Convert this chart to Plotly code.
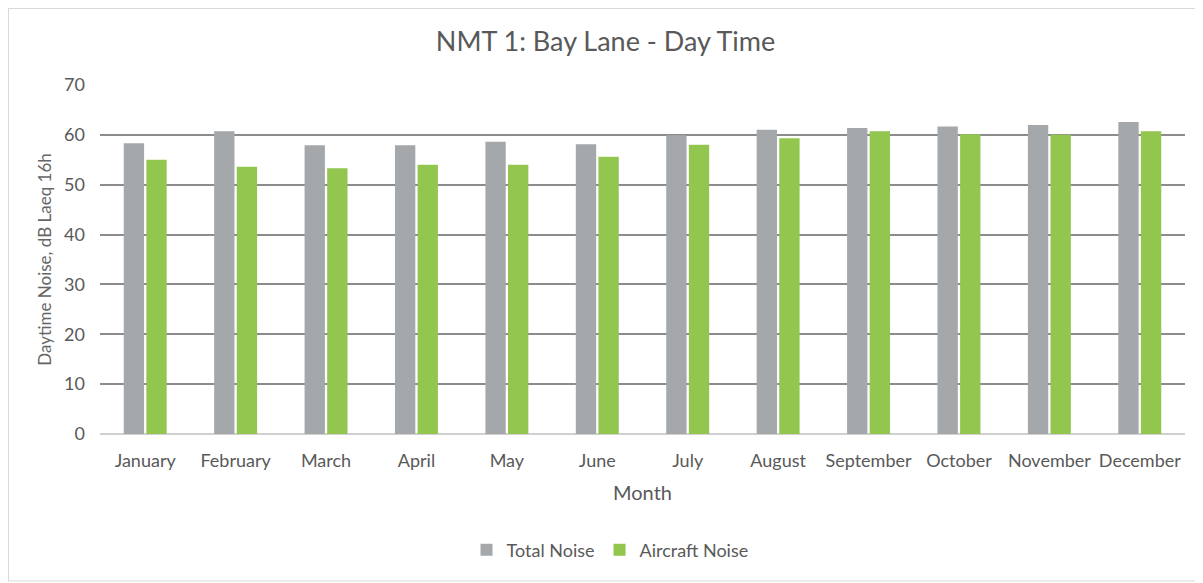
import plotly.graph_objects as go

months = ["January", "February", "March", "April", "May", "June", "July",
          "August", "September", "October", "November", "December"]
total_noise = [58.3, 60.7, 57.9, 57.9, 58.6, 58.1, 59.9, 61.0, 61.4, 61.7, 62.0, 62.6]
aircraft_noise = [55.0, 53.6, 53.3, 54.0, 54.0, 55.6, 58.0, 59.3, 60.7, 60.1, 60.0, 60.7]
y_ticks = [0, 10, 20, 30, 40, 50, 60, 70]

FONT = "Lato, Open Sans, sans-serif"
TXT = "#595959"

fig = go.Figure()
fig.add_trace(go.Bar(name="Total Noise", x=months, y=total_noise,
                     marker=dict(color="#A5A8AB", line=dict(width=0))))
fig.add_trace(go.Bar(name="Aircraft Noise", x=months, y=aircraft_noise,
                     marker=dict(color="#92C64E", line=dict(width=0))))

# page is offset by the 8px body margin
W, H = 1195, 575
ml, mr, mt, mb = 92, 18, 77, 149
pw, ph = W - ml - mr, H - mt - mb

def px(x):
    return (x - ml) / pw

def py(y):
    return (H - mb - y) / ph

fig.update_layout(
    width=W, height=H,
    margin=dict(l=ml, r=mr, t=mt, b=mb),
    paper_bgcolor="white", plot_bgcolor="white",
    barmode="group", bargap=0.5, bargroupgap=0.1,
    title=dict(text="NMT 1: Bay Lane - Day Time", x=0.5, xanchor="center",
               y=1 - 34 / H, yanchor="middle",
               font=dict(family=FONT, size=27, color=TXT)),
    font=dict(family=FONT, color=TXT),
    xaxis=dict(title=dict(text="Month", font=dict(size=20, color=TXT), standoff=15),
               tickfont=dict(size=18, color=TXT), showgrid=False,
               showline=False, ticks="", ticklabelstandoff=14),
    yaxis=dict(title=dict(text="Daytime Noise, dB Laeq 16h", font=dict(size=17, color="#666666"),
                          standoff=8),
               range=[0, 70], tickvals=y_ticks, tickfont=dict(size=18, color=TXT),
               showgrid=True, gridcolor="#8C8C8C", gridwidth=1.5,
               zeroline=True, zerolinecolor="#D0D0D0", zerolinewidth=1.5,
               ticks="", ticklen=0, showline=False, ticklabelstandoff=14),
    legend=dict(orientation="h", x=px(602), xanchor="center", y=py(542), yanchor="middle",
                font=dict(size=18, color=TXT), itemwidth=30, traceorder="normal"),
    shapes=[
        dict(type="line", xref="paper", yref="paper", x0=px(0.5), x1=px(0.5), y0=py(0), y1=py(573),
             line=dict(color="#D9D9D9", width=1)),
        dict(type="line", xref="paper", yref="paper", x0=px(0), x1=px(W), y0=py(0.5), y1=py(0.5),
             line=dict(color="#D9D9D9", width=1)),
        dict(type="line", xref="paper", yref="paper", x0=px(0), x1=px(W), y0=py(573), y1=py(573),
             line=dict(color="#D9D9D9", width=1)),
    ],
)

fig.write_html("out.html")
